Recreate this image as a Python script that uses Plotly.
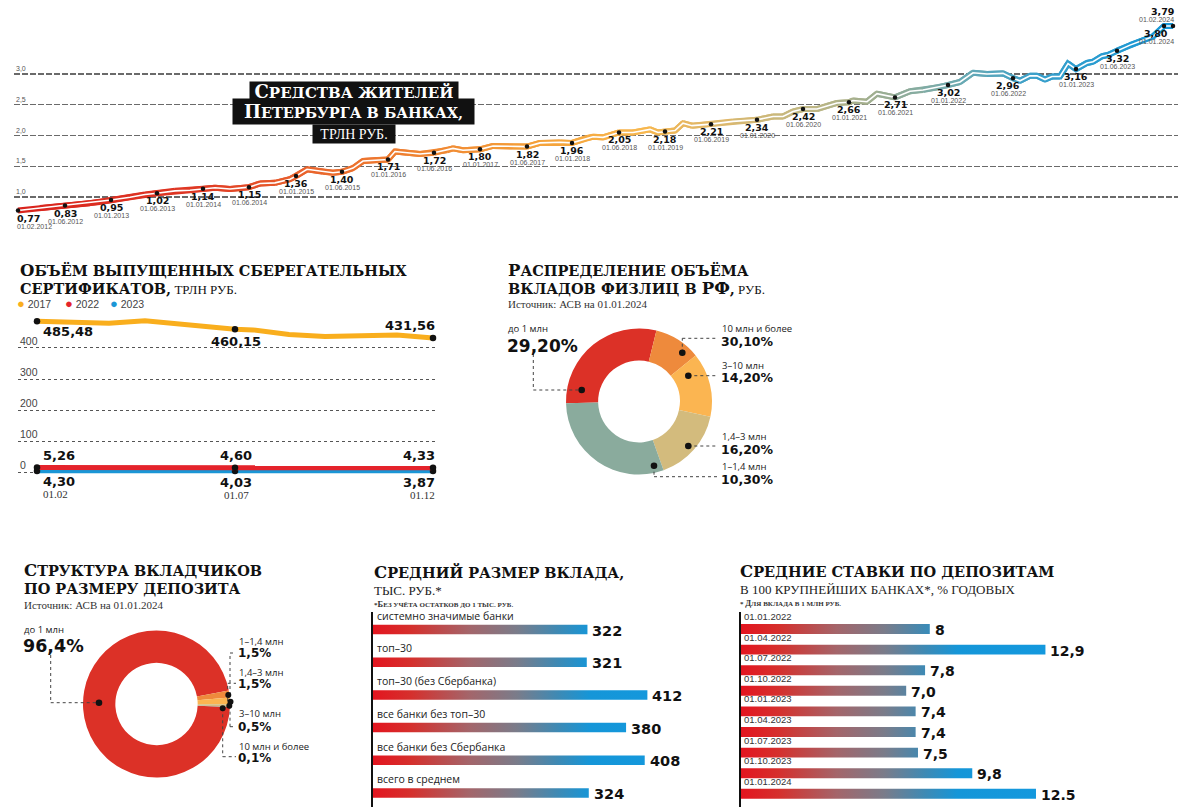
import plotly.graph_objects as go

W, H = 1200, 807

# ---------------- DATA ----------------
# Top chart: deposits of St. Petersburg residents, trillion rub (line)
line_pos = [18, 40, 65, 90, 100, 111, 130, 145, 157, 175, 190, 203, 215, 230, 249, 260, 275, 290, 296,
            307, 323, 333, 342, 353, 363, 377, 388, 395, 407, 420, 434, 447, 453, 463, 480, 493, 513, 527,
            540, 560, 572, 587, 593, 603, 619, 633, 650, 658, 665, 675, 683, 692, 711, 733, 757, 773, 783,
            793, 803, 817, 827, 837, 849, 853, 867, 877, 895, 910, 923, 937, 948, 960, 973, 987, 1003, 1013,
            1020, 1030, 1037, 1045, 1052, 1060, 1068, 1076, 1087, 1093, 1102, 1108, 1117, 1130, 1143, 1153,
            1164, 1173]
line_val = [0.78, 0.82, 0.86, 0.90, 0.92, 0.95, 0.995, 1.04, 1.06, 1.10, 1.11, 1.135, 1.15, 1.13, 1.16, 1.22, 1.23, 1.29, 1.34,
            1.45, 1.41, 1.395, 1.41, 1.47, 1.585, 1.60, 1.61, 1.74, 1.72, 1.70, 1.72, 1.76, 1.79, 1.76, 1.775, 1.83, 1.82, 1.82,
            1.88, 1.89, 1.88, 1.96, 1.98, 1.97, 2.05, 2.05, 2.10, 2.05, 2.065, 2.08, 2.20, 2.16, 2.185, 2.23, 2.255, 2.31, 2.31,
            2.39, 2.43, 2.43, 2.48, 2.53, 2.54, 2.57, 2.55, 2.68, 2.62, 2.72, 2.74, 2.78, 2.82, 2.87, 3.02, 3.00, 3.01, 2.93,
            2.89, 2.97, 2.97, 2.91, 2.96, 2.96, 3.17, 3.08, 3.18, 3.20, 3.29, 3.31, 3.38, 3.47, 3.55, 3.61,
            3.78, 3.78]
marker_pos = [18, 65, 111, 157, 203, 249, 296, 342, 388, 434, 480, 527, 572, 619, 665, 711, 757, 803, 849, 895,
              948, 1013, 1076, 1117, 1164, 1173]
marker_labels = ["0,77", "0,83", "0,95", "1,02", "1,14", "1,15", "1,36", "1,40", "1,71", "1,72", "1,80", "1,82", "1,96",
                 "2,05", "2,18", "2,21", "2,34", "2,42", "2,66", "2,71", "3,02", "2,96", "3,16", "3,32", "3,80", "3,79"]
marker_dates = ["01.02.2012", "01.06.2012", "01.01.2013", "01.06.2013", "01.01.2014", "01.06.2014", "01.01.2015",
                "01.06.2015", "01.01.2016", "01.06.2016", "01.01.2017", "01.06.2017", "01.01.2018", "01.06.2018",
                "01.01.2019", "01.06.2019", "01.01.2020", "01.06.2020", "01.01.2021", "01.06.2021", "01.01.2022",
                "01.06.2022", "01.01.2023", "01.06.2023", "01.01.2024", "01.02.2024"]
top_grid = [1.0, 1.5, 2.0, 2.5, 3.0]
top_grid_labels = ["1,0", "1,5", "2,0", "2,5", "3,0"]

# Savings certificates, trillion rub
cert_steps = [0, 1, 2, 3, 4, 5, 5.5, 6, 7, 8, 9, 10, 11]
cert_2017 = [485.48, 481.6, 479.6, 487.4, 475.7, 466.9, 460.15, 458.0, 443.3, 436.4, 440.4, 441.3, 431.56]
cert_mark_steps = [0, 5.5, 11]
cert_2017_mark = [485.48, 460.15, 431.56]
cert_2017_labels = ["485,48", "460,15", "431,56"]
cert_2022 = [5.26, 4.60, 4.33]
cert_2022_labels = ["5,26", "4,60", "4,33"]
cert_2023 = [4.30, 4.03, 3.87]
cert_2023_labels = ["4,30", "4,03", "3,87"]
cert_dates = ["01.02", "01.07", "01.12"]
cert_ticks = [0, 100, 200, 300, 400]
cert_years = ["2017", "2022", "2023"]

# Distribution of deposit volume (ring as drawn)
vol_names = ["до 1 млн", "10 млн и более", "3–10 млн", "1,4–3 млн", "1–1,4 млн"]
vol_shares = [29.2, 10.3, 14.2, 16.2, 30.1]
vol_texts = ["29,20%", "30,10%", "14,20%", "16,20%", "10,30%"]

# Structure of depositors
dep_names = ["до 1 млн", "1–1,4 млн", "1,4–3 млн", "3–10 млн", "10 млн и более"]
dep_shares = [96.4, 1.5, 1.5, 0.5, 0.1]
dep_texts = ["96,4%", "1,5%", "1,5%", "0,5%", "0,1%"]

# Average deposit size, thousand rub
avg_cats = ["системно значимые банки", "топ–30", "топ–30 (без Сбербанка)", "все банки без топ–30",
            "все банки без Сбербанка", "всего в среднем"]
avg_vals = [322, 321, 412, 380, 408, 324]

# Average rates
rate_dates = ["01.01.2022", "01.04.2022", "01.07.2022", "01.10.2022", "01.01.2023", "01.04.2023",
              "01.07.2023", "01.10.2023", "01.01.2024"]
rate_vals = [8, 12.9, 7.8, 7.0, 7.4, 7.4, 7.5, 9.8, 12.5]
rate_labels = ["8", "12,9", "7,8", "7,0", "7,4", "7,4", "7,5", "9,8", "12.5"]

# ---------------- HELPERS ----------------
def px(x):
    return x / W


def py(y):
    return 1 - y / H


def hex2rgb(h):
    h = h.lstrip('#')
    return tuple(int(h[i:i + 2], 16) for i in (0, 2, 4))


LINE_STOPS = [(18, '#d9231d'), (200, '#e03a25'), (300, '#e9622c'), (420, '#f08532'), (540, '#f5a23a'),
              (640, '#f8b74e'), (720, '#dcb86e'), (800, '#c3b882'), (880, '#9dae92'), (960, '#6caab2'),
              (1040, '#38a0cc'), (1180, '#1597d7')]


def line_color(t):
    for (a, ca), (b, cb) in zip(LINE_STOPS[:-1], LINE_STOPS[1:]):
        if a <= t <= b:
            f = (t - a) / (b - a)
            ra, ga, ba = hex2rgb(ca)
            rb, gb, bb = hex2rgb(cb)
            return 'rgb(%d,%d,%d)' % (ra + (rb - ra) * f, ga + (gb - ga) * f, ba + (bb - ba) * f)
    return LINE_STOPS[-1][1]


def sc(s, big, small):
    parts = []
    cur, buf = None, ''
    for ch in s:
        sz = big if ch.isupper() else small
        if sz != cur and buf:
            parts.append((cur, buf))
            buf = ''
        cur = sz
        buf += ch.upper()
    parts.append((cur, buf))
    return ''.join('<span style="font-size:%spx">%s</span>' % (z, t) for z, t in parts)


ANN = []
SHAPES = []
SERIF_B = "DejaVu Serif"
SERIF = "Liberation Serif"
SANS = "Open Sans"
NUM = "DejaVu Sans"
TB, TS = 16.5, 14.5  # title big / small-cap sizes


def text(x, y, t, size=10, family=SANS, color="#222", xanchor="left", yanchor="middle", **kw):
    ANN.append(dict(x=px(x), y=py(y), xref='paper', yref='paper', text=t, showarrow=False,
                    xanchor=xanchor, yanchor=yanchor, font=dict(size=size, family=family, color=color), **kw))


def dtext(x, y, xr, yr, t, size=10, family=NUM, color="#111", xanchor="center", yanchor="middle", **kw):
    ANN.append(dict(x=x, y=y, xref=xr, yref=yr, text=t, showarrow=False,
                    xanchor=xanchor, yanchor=yanchor, font=dict(size=size, family=family, color=color), **kw))


def dotted(x0, y0, x1, y1):
    SHAPES.append(dict(type='line', xref='paper', yref='paper', x0=px(x0), y0=py(y0), x1=px(x1), y1=py(y1),
                       line=dict(color='#444', width=1, dash='dot')))


def dot(x, y, r=3.3):
    SHAPES.append(dict(type='circle', xref='paper', yref='paper', x0=px(x - r), x1=px(x + r),
                       y0=py(y + r), y1=py(y - r), fillcolor='#111', line=dict(width=0)))


fig = go.Figure()

# ---------------- TOP LINE CHART ----------------
n = len(line_pos)
for i in range(n - 1):
    j = min(i + 3, n)
    fig.add_trace(go.Scatter(x=line_pos[i:j], y=line_val[i:j], mode='lines',
                             line=dict(color=line_color((line_pos[i] + line_pos[i + 1]) / 2), width=6),
                             hoverinfo='skip', xaxis='x', yaxis='y'))
fig.add_trace(go.Scatter(x=line_pos, y=line_val, mode='lines', line=dict(color='white', width=1.6),
                         hoverinfo='skip', xaxis='x', yaxis='y'))
mk_y = [line_val[line_pos.index(p)] for p in marker_pos]
fig.add_trace(go.Scatter(x=marker_pos, y=mk_y, mode='markers', marker=dict(color='#111', size=4.5),
                         hoverinfo='skip', xaxis='x', yaxis='y', cliponaxis=False))

for k, (p, v, lab, dt) in enumerate(zip(marker_pos, mk_y, marker_labels, marker_dates)):
    xa, xs, ys_v, ys_d = 'center', 0, -7.5, -15.5
    if k == 0:
        xa, xs = 'left', -3
    elif k == len(marker_pos) - 1:
        xa, xs, ys_v, ys_d = 'right', 3, 15, 6.5
    elif k == len(marker_pos) - 2:
        xs = -8
    elif lab == "2,96":
        xs = -5
    dtext(p, v, 'x', 'y', '<b>%s</b>' % lab, size=9.5, xanchor=xa, xshift=xs, yshift=ys_v)
    dtext(p, v, 'x', 'y', dt, size=7, family="Liberation Sans", color='#555', xanchor=xa, xshift=xs, yshift=ys_d)

for g, gl in zip(top_grid, top_grid_labels):
    ANN.append(dict(x=px(14), y=g, xref='paper', yref='y', text=gl, showarrow=False, xanchor='left',
                    yanchor='bottom', yshift=0, font=dict(size=7, family="Liberation Sans", color='#555')))

# title boxes
text(354, 90.5, '<b>' + sc("Средства жителей", 18, 15) + '</b>', family=SERIF_B, color='white',
     xanchor='center', bgcolor='#111', width=208, height=18, borderpad=0)
text(353.5, 111.7, '<b>' + sc("Петербурга в банках,", 18, 14.5) + '</b>', family=SERIF_B, color='white',
     xanchor='center', bgcolor='#111', width=241, height=25, borderpad=0)
text(354, 133.8, "ТРЛН РУБ.", size=14, family=SERIF, color='white', xanchor='center', bgcolor='#111',
     width=82, height=18, borderpad=0)

# ---------------- CERTIFICATES ----------------
C17, C22, C23 = '#f9ae1d', '#e4232b', '#1a96d6'
fig.add_trace(go.Scatter(x=cert_mark_steps, y=cert_2023, mode='lines', line=dict(color=C23, width=4.5),
                         hoverinfo='skip', xaxis='x2', yaxis='y2'))
fig.add_trace(go.Scatter(x=cert_mark_steps, y=cert_2022, mode='lines', line=dict(color=C22, width=5),
                         hoverinfo='skip', xaxis='x2', yaxis='y3'))
fig.add_trace(go.Scatter(x=cert_steps, y=cert_2017, mode='lines', line=dict(color=C17, width=5),
                         hoverinfo='skip', xaxis='x2', yaxis='y2'))
for yy, ax in ((cert_2023, 'y2'), (cert_2022, 'y3'), (cert_2017_mark, 'y2')):
    fig.add_trace(go.Scatter(x=cert_mark_steps, y=yy, mode='markers', marker=dict(color='#111', size=6.5),
                             hoverinfo='skip', xaxis='x2', yaxis=ax, cliponaxis=False))

anch = [('left', 4), ('center', 1), ('right', 4)]
ys17 = [-10, -12, 13]
for k in range(3):
    xa, xs = anch[k]
    dtext(cert_mark_steps[k], cert_2017_mark[k], 'x2', 'y2', '<b>%s</b>' % cert_2017_labels[k], size=13,
          xanchor=xa, xshift=xs, yshift=ys17[k])
    dtext(cert_mark_steps[k], cert_2022[k], 'x2', 'y3', '<b>%s</b>' % cert_2022_labels[k], size=13,
          xanchor=xa, xshift=xs, yshift=12.5)
    dtext(cert_mark_steps[k], cert_2023[k], 'x2', 'y2', '<b>%s</b>' % cert_2023_labels[k], size=13,
          xanchor=xa, xshift=xs, yshift=-11)
    dtext(cert_mark_steps[k], cert_2023[k], 'x2', 'y2', cert_dates[k], size=11, family=SERIF, color='#333',
          xanchor=xa, xshift=xs, yshift=-23.5)
for tv in cert_ticks:
    ANN.append(dict(x=px(18), y=tv, xref='paper', yref='y2', text=str(tv), showarrow=False, xanchor='left',
                    yanchor='bottom', yshift=-1, font=dict(size=10.5, family="Liberation Sans", color='#444')))

text(18, 270, '<b>' + sc("Объём выпущенных сберегательных", TB, TS) + '</b>', family=SERIF_B, color='#111')
text(18, 288, '<b>' + sc("сертификатов,", TB, TS) + '</b>' +
     '<span style="font-size:13px;font-family:Liberation Serif;font-weight:normal"> ТРЛН РУБ.</span>',
     family=SERIF_B, color='#111')
for xx, yr, col in zip([15, 63, 108], cert_years, [C17, C22, C23]):
    text(xx, 303.5, '<span style="color:%s;font-size:13px">●</span> %s' % (col, yr), size=10.5,
         family="Liberation Sans", color='#444')

# ---------------- VOLUME DONUT ----------------
fig.add_trace(go.Pie(values=vol_shares, labels=vol_names, hole=0.56, sort=False, direction='clockwise',
                     rotation=268.7, textinfo='none', hoverinfo='skip', showlegend=False,
                     marker=dict(colors=['#dc3127', '#ee8a3c', '#fbb551', '#d3bb7d', '#8aab9d'], line=dict(width=0)),
                     domain=dict(x=[px(566), px(712)], y=[py(474.5), py(328.5)])))
text(506, 270, '<b>' + sc("Распределение объёма", TB, TS) + '</b>', family=SERIF_B, color='#111')
text(506, 288, '<b>' + sc("вкладов физлиц в РФ,", TB, TS) + '</b>' +
     '<span style="font-size:13px;font-family:Liberation Serif;font-weight:normal"> РУБ.</span>',
     family=SERIF_B, color='#111')
text(506, 304.5, "Источник: АСВ на 01.01.2024", size=11, family=SERIF, color='#333')

vol_lab_pos = [(506, 329, 345.5, 17), (720, 328, 341, 12.5), (720, 365, 378, 12.5), (720, 436, 449, 12.5),
               (720, 466, 479, 12.5)]
for nm, tx, (lx, y1, y2, fs) in zip(vol_names, vol_texts, vol_lab_pos):
    text(lx, y1, nm, size=9.5, family=SANS, color='#222')
    text(lx - 1, y2, '<b>%s</b>' % tx, size=fs, family=NUM, color='#111')
dotted(533.3, 354, 533.3, 390)
dotted(533.3, 390, 581.7, 390)
dot(581.7, 390)
dotted(682.3, 352.7, 682.3, 338.3)
dotted(682.3, 338.3, 718, 338.3)
dot(682.3, 352.7)
dotted(688.3, 375.7, 718, 375.7)
dot(688.3, 375.7)
dotted(688.3, 446, 718, 446)
dot(688.3, 446)
dotted(654, 465.7, 654, 476.7)
dotted(654, 476.7, 718, 476.7)
dot(654, 465.7)

# ---------------- DEPOSITORS DONUT ----------------
fig.add_trace(go.Pie(values=dep_shares, labels=dep_names, hole=0.56, sort=False, direction='clockwise',
                     rotation=92.4, textinfo='none', hoverinfo='skip', showlegend=False,
                     marker=dict(colors=['#dc3127', '#ee8a3c', '#fbb551', '#d3bb7d', '#8aab9d'], line=dict(width=0)),
                     domain=dict(x=[px(83), px(230)], y=[py(777.5), py(630.5)])))
text(22, 570.5, '<b>' + sc("Структура вкладчиков", TB, TS) + '</b>', family=SERIF_B, color='#111')
text(22, 588, '<b>' + sc("по размеру депозита", TB, TS) + '</b>', family=SERIF_B, color='#111')
text(22, 604.5, "Источник: АСВ на 01.01.2024", size=11, family=SERIF, color='#333')
dep_lab_pos = [(22, 629, 645.5, 17.5), (237, 641, 653, 12), (237, 672, 684, 12), (237, 713, 726.5, 12),
               (237, 746, 758, 12)]
for nm, tx, (lx, y1, y2, fs) in zip(dep_names, dep_texts, dep_lab_pos):
    text(lx, y1, nm, size=9.5, family=SANS, color='#222')
    text(lx - 1, y2, '<b>%s</b>' % tx, size=fs, family=NUM, color='#111')
dotted(50.7, 655, 50.7, 702.7)
dotted(50.7, 702.7, 99, 702.7)
dot(99, 702.7)
dotted(230, 695, 230, 653)
dotted(230, 653, 236, 653)
dotted(227.7, 701, 227.7, 683.3)
dotted(227.7, 683.3, 236, 683.3)
dotted(230, 705.7, 230, 726.7)
dotted(230, 726.7, 236, 726.7)
dotted(222.7, 708.3, 222.7, 756.7)
dotted(222.7, 756.7, 236, 756.7)
dot(228.3, 695, 3)
dot(230.5, 701.7, 3)
dot(229.3, 705.7, 3)
dot(222.7, 708.3, 3)

# ---------------- BARS ----------------
BAR_CS = [[0, '#e3151f'], [0.12, '#d5302d'], [0.3, '#a4656a'], [0.45, '#7a7c8a'], [0.58, '#3d8ab5'],
          [0.68, '#1596d8'], [1, '#1399df']]


def gbars(vals, xa, ya, half, gstop):
    for i, v in enumerate(vals):
        fig.add_trace(go.Scatter(x=[0, v, v, 0, 0], y=[i - half, i - half, i + half, i + half, i - half],
                                 mode='lines', fill='toself', line=dict(width=0, color='rgba(0,0,0,0)'),
                                 fillgradient=dict(type='horizontal', colorscale=BAR_CS, start=0, stop=gstop),
                                 hoverinfo='skip', xaxis=xa, yaxis=ya))


gbars(avg_vals, 'x4', 'y4', 0.145, 480)
for i, (c, v) in enumerate(zip(avg_cats, avg_vals)):
    dtext(0, i - 0.145, 'x4', 'y4', c, size=10.5, family=SANS, color='#222', xanchor='left', yanchor='bottom',
          xshift=2, yshift=0)
    dtext(v, i, 'x4', 'y4', '<b>%d</b>' % v, size=14.5, xanchor='left', xshift=3, yshift=-1)
text(372, 572, '<b>' + sc("Средний размер вклада,", TB, TS) + '</b>', family=SERIF_B, color='#111')
text(372, 590, "ТЫС. РУБ.*", size=13, family=SERIF, color='#222')
text(372, 604, '<b>' + sc("*Без учёта остатков до 1 тыс. руб.", 8.5, 7) + '</b>', family=SERIF, color='#333')

gbars(rate_vals, 'x5', 'y5', 0.24, 13.5)
for i, (d, v, lab) in enumerate(zip(rate_dates, rate_vals, rate_labels)):
    dtext(0, i - 0.24, 'x5', 'y5', d, size=9.5, family="Liberation Sans", color='#333', xanchor='left',
          yanchor='bottom', xshift=1, yshift=0)
    dtext(v, i, 'x5', 'y5', '<b>%s</b>' % lab, size=14, xanchor='left', xshift=3, yshift=-1)
text(738, 571, '<b>' + sc("Средние ставки по депозитам", TB, TS) + '</b>', family=SERIF_B, color='#111')
text(738, 589, "В 100 КРУПНЕЙШИХ БАНКАХ*, % ГОДОВЫХ", size=13, family=SERIF, color='#222')
text(738, 603, '<b>' + sc("* Для вклада в 1 млн руб.", 8.5, 7) + '</b>', family=SERIF, color='#333')

# ---------------- LAYOUT ----------------
hidden = dict(visible=False, showgrid=False, zeroline=False, fixedrange=True)
fig.update_layout(
    width=W, height=H, margin=dict(l=0, r=0, t=0, b=0), paper_bgcolor='white', plot_bgcolor='rgba(0,0,0,0)',
    showlegend=False,
    xaxis=dict(hidden, domain=[px(14), px(1178)], range=[14, 1178]),
    yaxis=dict(domain=[py(221.6), py(15.6)], range=[0.6, 3.95], tickvals=top_grid, showticklabels=False,
               showgrid=True, gridcolor='#6a6a6a', gridwidth=1.3, griddash='6px,2px', zeroline=False,
               anchor='x', fixedrange=True),
    xaxis2=dict(hidden, domain=[px(18), px(438)], range=[-0.528, 11.139], anchor='y2'),
    yaxis2=dict(domain=[py(481.6), py(310.6)], range=[-30, 520], tickvals=cert_ticks, showticklabels=False,
                showgrid=True, gridcolor='#555', gridwidth=1, griddash='dot', zeroline=False, anchor='x2',
                fixedrange=True),
    yaxis3=dict(visible=False, overlaying='y2', range=[-40, 510], anchor='x2', showgrid=False, zeroline=False),
    xaxis4=dict(hidden, domain=[px(373), px(700)], range=[0, 491], anchor='y4'),
    yaxis4=dict(domain=[0, py(612)], range=[5.428, -0.535], showgrid=False, zeroline=False,
                showticklabels=False, showline=True, linecolor='#111', linewidth=2, anchor='x4', ticks=''),
    xaxis5=dict(hidden, domain=[px(741), 1.0], range=[0, 19.45], anchor='y5'),
    yaxis5=dict(domain=[0, py(612)], range=[8.64, -0.825], showgrid=False, zeroline=False,
                showticklabels=False, showline=True, linecolor='#111', linewidth=2, anchor='x5', ticks=''),
    annotations=ANN, shapes=SHAPES,
)

fig.write_html("out.html", config={'displayModeBar': False, 'staticPlot': True},
               post_script="document.body.style.margin='0';document.body.style.overflow='hidden';")
